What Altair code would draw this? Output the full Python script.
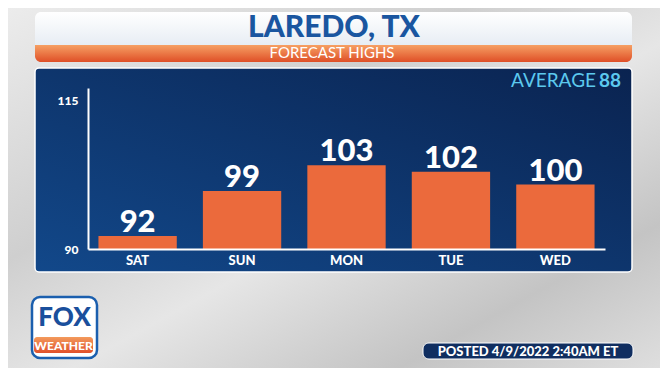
import altair as alt
import pandas as pd

# ---- data ----
days = ["SAT", "SUN", "MON", "TUE", "WED"]
highs = [92, 99, 103, 102, 100]
y_ticks = [90, 115]
y_min, y_max = 90, 115
title_text = "LAREDO, TX"
subtitle_text = "FORECAST HIGHS"
average_label = "AVERAGE"
average_value = "88"
posted_text = "POSTED 4/9/2022 2:40AM ET"

df = pd.DataFrame({"day": days, "high": highs})
one = pd.DataFrame({"k": [0]})

FONT = "Lato"
W, H = 517, 161

def grad(stops, x1=0, y1=0, x2=0, y2=1):
    return alt.Gradient(
        gradient="linear",
        stops=[alt.GradientStop(color=c, offset=o) for o, c in stops],
        x1=x1, y1=y1, x2=x2, y2=y2,
    )

def box(x, x2, y, y2, **kw):
    return alt.Chart(one).mark_rect(**kw).encode(
        x=alt.value(x), x2=alt.value(x2), y=alt.value(y), y2=alt.value(y2)
    )

def label(text, x, y, **kw):
    return alt.Chart(one).mark_text(text=text, font=FONT, **kw).encode(
        x=alt.value(x), y=alt.value(y)
    )

background = box(-80, 572, -80, 280, color=grad(
    [(0, "#ececec"), (0.35, "#cfcfcf"), (0.55, "#e6e6e6"), (0.8, "#c4c4c4"), (1, "#dedede")],
    x1=0, y1=0, x2=1, y2=1))

header = box(-53, 544, -76, -26, cornerRadius=6,
             color=grad([(0, "#ffffff"), (1, "#dbe4ee")]))
band = box(-53, 544, -43, -26, cornerRadiusBottomLeft=6, cornerRadiusBottomRight=6,
           color=grad([(0, "#f6a064"), (1, "#df4f27")]))
title = label(title_text, 246, -51, fontSize=30, fontWeight=900, color="#1a56a0",
              align="center", baseline="alphabetic")
subtitle = label(subtitle_text, 244, -30, fontSize=15, color="white",
                 align="center", baseline="alphabetic")

panel = box(-53, 544, -20, 184, cornerRadius=4, stroke="white", strokeWidth=1.5,
            color=grad([(0, "#12488a"), (1, "#0a2350")], x1=0, y1=1, x2=1, y2=0))

avg_lbl = label(average_label, 508, -1, fontSize=19, color="#5cc9ee",
                align="right", baseline="alphabetic")
avg_val = label(average_value, 533, -1, fontSize=19, fontWeight="bold", color="#5cc9ee",
                align="right", baseline="alphabetic")

x_enc = alt.X("day:N", sort=days,
              scale=alt.Scale(paddingInner=0.25, paddingOuter=0.1),
              axis=alt.Axis(title=None, labelAngle=0, ticks=False, labelColor="white",
                            labelFont=FONT, labelFontWeight=900, labelFontSize=13,
                            labelPadding=5, domainColor="white", domainWidth=2, zindex=1))
y_scale = alt.Scale(domain=[y_min, y_max], zero=False, nice=False)

bars = alt.Chart(df).mark_bar(color="#eb6a3c").encode(
    x=x_enc,
    y=alt.Y("high:Q", scale=y_scale,
            axis=alt.Axis(title=None, values=y_ticks, ticks=False, grid=False,
                          labelColor="white", labelFont=FONT, labelFontWeight=900,
                          labelFontSize=12, labelPadding=10, domainColor="white",
                          domainWidth=2, zindex=1,
                          labelOffset={"condition": {"test": "datum.value == 115", "value": 12},
                                       "value": 0})),
    y2=alt.datum(y_min),
)

values = alt.Chart(df).mark_text(font=FONT, fontWeight=900, fontSize=31, color="white",
                                 baseline="alphabetic", dy=-4).encode(
    x=alt.X("day:N", sort=days),
    y=alt.Y("high:Q", scale=y_scale),
    text="high:Q",
)

# logo
logo_box = box(-56, 9, 209, 270, cornerRadius=8, color="white",
               stroke="#1b5fae", strokeWidth=2.5)
logo_fox = label("FOX", -23.5, 238, fontSize=26, fontWeight=900, color="#1a4f9c",
                 align="center", baseline="alphabetic")
logo_band = box(-54, 5, 249, 265, cornerRadius=3,
                color=grad([(0, "#f39a5c"), (1, "#e0502a")]))
logo_wx = label("WEATHER", -24.5, 262, fontSize=12, fontWeight=900, color="white",
                align="center", baseline="alphabetic")

# posted pill
pill = box(335, 545, 255, 271, cornerRadius=6, color="#102e60", stroke="white", strokeWidth=1)
posted = label(posted_text, 440, 267.5, fontSize=13, fontWeight=900, color="white",
               align="center", baseline="alphabetic")

chart = alt.layer(
    background, header, band, title, subtitle, panel, avg_lbl, avg_val,
    bars, values, logo_box, logo_fox, logo_band, logo_wx, pill, posted,
).properties(
    width=W, height=H,
    padding={"left": 80, "top": 80, "right": 55, "bottom": 119},
    autosize=alt.AutoSizeParams(type="none"),
).configure_view(stroke=None).configure(background="#d8d8d8")

chart.save("out.html", embed_options={"renderer": "svg", "actions": False})
